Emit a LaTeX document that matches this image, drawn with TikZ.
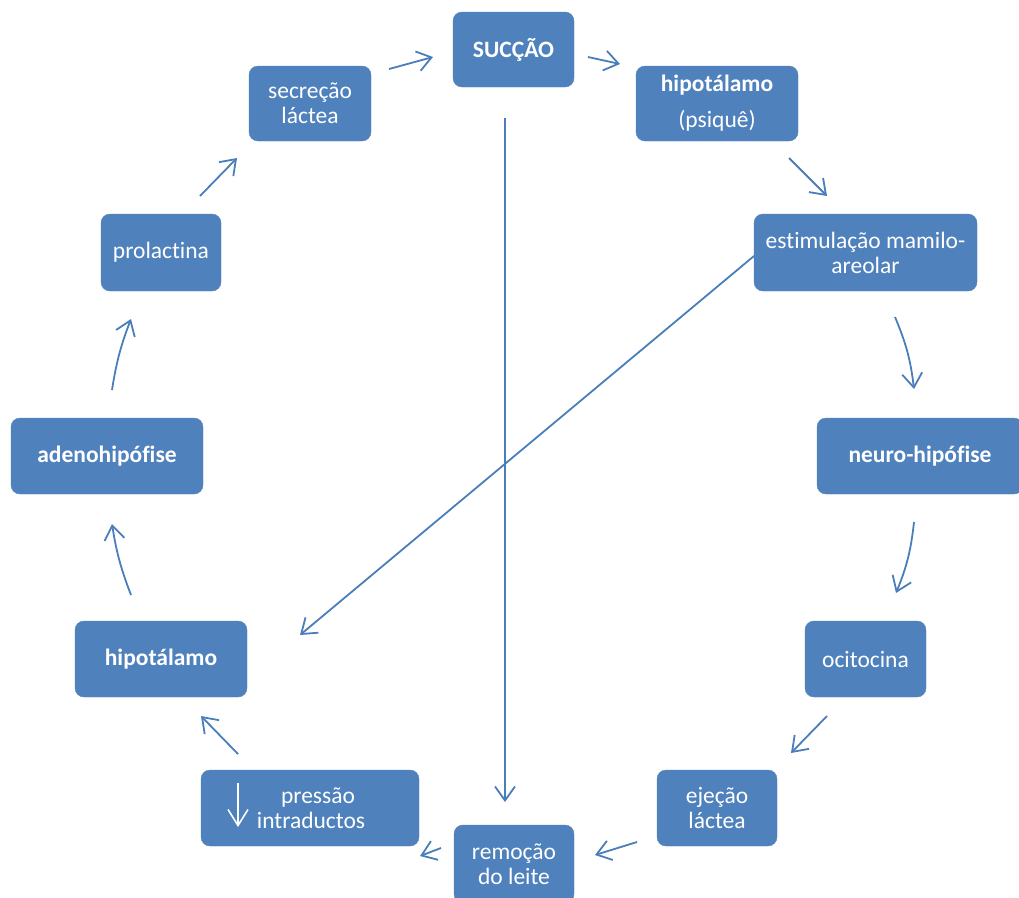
\documentclass[tikz,border=0pt]{standalone}
\usepackage{fontspec}
\setmainfont{Carlito}[RawFeature={-liga;-clig;-dlig;-calt}]
\usetikzlibrary{arrows.meta}
\definecolor{boxblue}{HTML}{4F81BD}
\definecolor{arrblue}{HTML}{4A7EBB}
\begin{document}
\begin{tikzpicture}[x=1pt,y=-1pt,
  box/.style={fill=boxblue,draw=boxblue,rounded corners=9pt,text=white,
    font=\fontsize{23.5}{25}\selectfont,inner sep=0pt,align=center},
  arr/.style={draw=arrblue,line width=1.8pt,-{Straight Barb[length=14pt,width=20pt,line width=1.8pt]}}]
\useasboundingbox (0,0) rectangle (1019,897);
% boxes
\node[box,minimum width=121pt,minimum height=75pt] (succao) at (513.5,49.5) {\bfseries SUCÇÃO};
\node[box,minimum width=162pt,minimum height=75pt] (hipP) at (717,103.5) {\bfseries hipotálamo\\[11pt](psiquê)};
\node[box,minimum width=223pt,minimum height=77pt] (estim) at (865.5,252.5) {estimulação mamilo-\\areolar};
\node[box,minimum width=206pt,minimum height=76pt] (neuro) at (920,456) {\bfseries neuro-hipófise};
\node[box,minimum width=121pt,minimum height=76pt] (ocit) at (865.5,659) {ocitocina};
\node[box,minimum width=120pt,minimum height=76pt] (ejecao) at (717,808) {ejeção\\láctea};
\node[box,minimum width=120pt,minimum height=78pt] (remocao) at (514,864) {remoção\\do leite};
\node[box,minimum width=218pt,minimum height=76pt] (pressao) at (310,808) {\hspace*{16pt}pressão\\\hspace*{2pt}intraductos};
\node[box,minimum width=172pt,minimum height=76pt] (hipL) at (161,659) {\bfseries hipotálamo};
\node[box,minimum width=192pt,minimum height=76pt] (adeno) at (107,456) {\bfseries adenohipófise};
\node[box,minimum width=120pt,minimum height=77pt] (prolac) at (161,252.5) {prolactina};
\node[box,minimum width=122pt,minimum height=75pt] (secrecao) at (310,103.5) {secreção\\láctea};
% down arrow glyph inside pressao
\coordinate (pa1) at (238,783);
\coordinate (pa2) at (238,827);
\draw[draw=white,line width=1.6pt,-{Straight Barb[length=16pt,width=20pt,line width=1.6pt]}] (pa1) -- (pa2);
% connector end points
\coordinate (a1s) at (389,69);  \coordinate (a1e) at (433,57);
\coordinate (a2s) at (588,57);  \coordinate (a2e) at (620,64);
\coordinate (a3s) at (789,158); \coordinate (a3e) at (827,196);
\coordinate (a4s) at (895,317); \coordinate (a4e) at (914,389);
\coordinate (a5s) at (914,522); \coordinate (a5e) at (896,593);
\coordinate (a6s) at (827,716); \coordinate (a6e) at (791,753);
\coordinate (a7s) at (637,842); \coordinate (a7e) at (595,855);
\coordinate (a8s) at (441,848); \coordinate (a8e) at (420,856);
\coordinate (a9s) at (238,754); \coordinate (a9e) at (201,716);
\coordinate (a10s) at (131,595); \coordinate (a10e) at (112,524);
\coordinate (a11s) at (112,390); \coordinate (a11e) at (131,319);
\coordinate (a12s) at (200,196); \coordinate (a12e) at (237,158);
\coordinate (vs) at (505,118); \coordinate (ve) at (505,802);
\coordinate (ds) at (754,256); \coordinate (de) at (300,635);
% connectors
\draw[arr] (a1s) -- (a1e);
\draw[arr] (a2s) -- (a2e);
\draw[arr] (a3s) -- (a3e);
\draw[arr] (a4s) to[bend left=8] (a4e);
\draw[arr] (a5s) to[bend left=8] (a5e);
\draw[arr] (a6s) -- (a6e);
\draw[arr] (a7s) -- (a7e);
\draw[arr] (a8s) -- (a8e);
\draw[arr] (a9s) -- (a9e);
\draw[arr] (a10s) to[bend left=6] (a10e);
\draw[arr] (a11s) to[bend left=6] (a11e);
\draw[arr] (a12s) -- (a12e);
\draw[arr] (vs) -- (ve);
\draw[arr] (ds) -- (de);
\end{tikzpicture}
\end{document}
